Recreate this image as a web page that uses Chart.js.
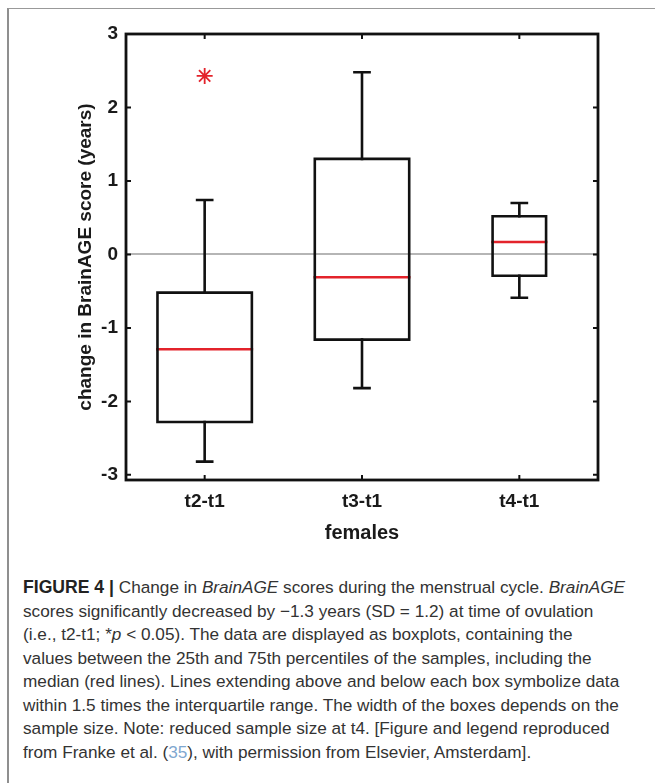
<!DOCTYPE html>
<html>
<head>
<meta charset="utf-8">
<script src="https://cdn.jsdelivr.net/npm/chart.js@4"></script>
<style>
  html, body { margin: 0; padding: 0; background: #fff; }
  body { width: 655px; height: 783px; position: relative; overflow: hidden; }
  #frame {
    position: absolute; left: 7px; top: 8px; width: 660px; height: 790px;
    border-top: 1px solid #999; border-left: 2px solid #8f8f8f;
  }
  #chartBox { position: absolute; left: 0; top: 0; width: 655px; height: 560px; }
  #caption {
    position: absolute; left: 23px; top: 576px;
    font-family: "Liberation Sans", Arial, sans-serif; font-size: 17.2px;
    line-height: 23.5px; color: #333; white-space: nowrap;
  }
  #caption b { color: #222; font-size: 17.6px; }
  #caption .ref { color: #7fa7cf; }
</style>
</head>
<body>
<div id="frame"></div>
<div id="chartBox"><canvas id="boxChart"></canvas></div>
<div id="caption">
<b>FIGURE 4 |</b> Change in <i>BrainAGE</i> scores during the menstrual cycle. <i>BrainAGE</i><br>
scores significantly decreased by &minus;1.3 years (SD = 1.2) at time of ovulation<br>
(i.e., t2-t1; *<i>p</i> &lt; 0.05). The data are displayed as boxplots, containing the<br>
values between the 25th and 75th percentiles of the samples, including the<br>
median (red lines). Lines extending above and below each box symbolize data<br>
within 1.5 times the interquartile range. The width of the boxes depends on the<br>
sample size. Note: reduced sample size at t4. [Figure and legend reproduced<br>
from Franke et al. (<span class="ref">35</span>), with permission from Elsevier, Amsterdam].
</div>
<script>
// groups and box statistics (years)
const groups = ['t2-t1', 't3-t1', 't4-t1'];
const whiskerHigh = [0.74, 2.48, 0.70];
const upperQuartile = [-0.52, 1.30, 0.52];
const medians = [-1.29, -0.31, 0.17];
const lowerQuartile = [-2.28, -1.16, -0.29];
const whiskerLow = [-2.82, -1.82, -0.59];
const significant = [2.43, null, null];   // red asterisk (p < 0.05)
const yTicks = [-3, -2, -1, 0, 1, 2, 3];

// drawing sizes (in x-axis units), not data
const boxHalf = [0.30, 0.30, 0.17];
const capHalf = 0.048;

const BLACK = '#111';
const RED = '#e3232b';
const FONT = 'Liberation Sans';

// build line segments from the stats, null breaks the line
let boxPts = [], whiskerPts = [], medianPts = [];
groups.forEach((g, i) => {
    const x = i + 1, h = boxHalf[i];
    boxPts.push({x: x - h, y: lowerQuartile[i]}, {x: x + h, y: lowerQuartile[i]},
                {x: x + h, y: upperQuartile[i]}, {x: x - h, y: upperQuartile[i]},
                {x: x - h, y: lowerQuartile[i]}, {x: x, y: null});
    whiskerPts.push({x: x, y: upperQuartile[i]}, {x: x, y: whiskerHigh[i]}, {x: x, y: null},
                    {x: x - capHalf, y: whiskerHigh[i]}, {x: x + capHalf, y: whiskerHigh[i]}, {x: x, y: null},
                    {x: x, y: lowerQuartile[i]}, {x: x, y: whiskerLow[i]}, {x: x, y: null},
                    {x: x - capHalf, y: whiskerLow[i]}, {x: x + capHalf, y: whiskerLow[i]}, {x: x, y: null});
    medianPts.push({x: x - h, y: medians[i]}, {x: x + h, y: medians[i]}, {x: x, y: null});
});
const starPts = significant.map((v, i) => ({x: i + 1, y: v})).filter(p => p.y !== null);

const segLine = (data, color) => ({
    type: 'line', data: data, borderColor: color, borderWidth: 2.6,
    pointRadius: 0, tension: 0, spanGaps: false, fill: false,
    borderJoinStyle: 'miter', borderCapStyle: 'square'
});

// MATLAB style frame with inward ticks
const framePlugin = {
    id: 'frame',
    afterDatasetsDraw(chart) {
        const {ctx, chartArea: a, scales: {x, y}} = chart;
        ctx.save();
        ctx.strokeStyle = BLACK;
        ctx.lineWidth = 2;
        ctx.beginPath();
        y.ticks.forEach(t => {
            const py = y.getPixelForValue(t.value);
            ctx.moveTo(a.left, py); ctx.lineTo(a.left + 5, py);
            ctx.moveTo(a.right, py); ctx.lineTo(a.right - 5, py);
        });
        x.ticks.forEach(t => {
            const px = x.getPixelForValue(t.value);
            ctx.moveTo(px, a.top); ctx.lineTo(px, a.top + 5);
            ctx.moveTo(px, a.bottom); ctx.lineTo(px, a.bottom - 5);
        });
        ctx.stroke();
        ctx.lineWidth = 2.8;
        ctx.strokeRect(a.left, a.top, a.right - a.left, a.bottom - a.top);
        ctx.restore();
    }
};

new Chart(document.getElementById('boxChart'), {
    type: 'line',
    data: {
        datasets: [
            segLine(boxPts, BLACK),
            segLine(whiskerPts, BLACK),
            segLine(medianPts, RED),
            {
                type: 'scatter', data: starPts, pointStyle: 'star', pointRadius: 8,
                borderColor: RED, borderWidth: 1.8, backgroundColor: RED
            }
        ]
    },
    options: {
        responsive: true,
        maintainAspectRatio: false,
        animation: false,
        layout: { padding: { left: 74, right: 57, top: 34, bottom: 10 } },
        plugins: { legend: { display: false }, tooltip: { enabled: false } },
        scales: {
            x: {
                type: 'linear', min: 0.5, max: 3.5,
                afterBuildTicks: s => { s.ticks = groups.map((g, i) => ({value: i + 1})); },
                afterFit: s => { s.height = 70; },
                border: { display: false },
                grid: { display: false, drawTicks: false },
                ticks: {
                    padding: 10, color: '#1a1a1a',
                    font: { family: FONT, size: 19, weight: 'bold' },
                    callback: v => groups[Math.round(v) - 1]
                },
                title: {
                    display: true, text: 'females', color: '#1a1a1a',
                    font: { family: FONT, size: 20, weight: 'bold' },
                    padding: { top: 0, bottom: 5 }
                }
            },
            y: {
                min: -3.07, max: 3,
                afterBuildTicks: s => { s.ticks = yTicks.map(v => ({value: v})); },
                afterFit: s => { s.width = 52; },
                border: { display: false },
                grid: {
                    drawTicks: false, lineWidth: 2,
                    color: c => c.tick && c.tick.value === 0 ? '#b5b5b5' : 'rgba(0,0,0,0)'
                },
                ticks: {
                    padding: 8, color: '#1a1a1a',
                    font: { family: FONT, size: 19, weight: 'bold' }
                },
                title: {
                    display: true, text: 'change in BrainAGE score (years)', color: '#1a1a1a',
                    font: { family: FONT, size: 19, weight: 'bold' },
                    padding: { top: 0, bottom: 0 }
                }
            }
        }
    },
    plugins: [framePlugin]
});
</script>
</body>
</html>
